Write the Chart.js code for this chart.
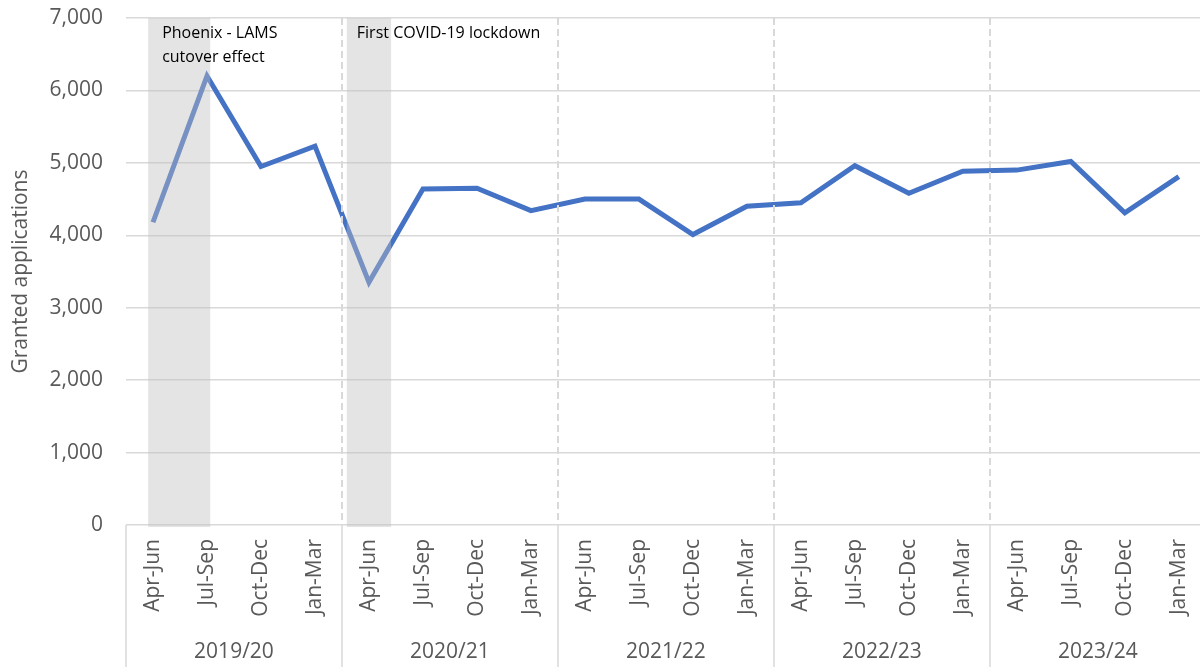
<!DOCTYPE html>
<html>
<head>
<meta charset="utf-8">
<script src="https://cdn.jsdelivr.net/npm/chart.js@4.4.1/dist/chart.umd.min.js"></script>
<style>
  html, body { margin: 0; padding: 0; background: #fff; overflow: hidden; }
  #wrap { width: 1218px; height: 667px; }
</style>
</head>
<body>
<div id="wrap"><canvas id="grantedChart" width="1218" height="667"></canvas></div>
<script>
/* ----------------------------------------------------------
   Data
   ---------------------------------------------------------- */
var years = ['2019/20', '2020/21', '2021/22', '2022/23', '2023/24'];
var quarters = [
  'Apr-Jun', 'Jul-Sep', 'Oct-Dec', 'Jan-Mar',
  'Apr-Jun', 'Jul-Sep', 'Oct-Dec', 'Jan-Mar',
  'Apr-Jun', 'Jul-Sep', 'Oct-Dec', 'Jan-Mar',
  'Apr-Jun', 'Jul-Sep', 'Oct-Dec', 'Jan-Mar',
  'Apr-Jun', 'Jul-Sep', 'Oct-Dec', 'Jan-Mar'
];
var granted = [
  4180, 6200, 4950, 5230,
  3350, 4640, 4650, 4340,
  4500, 4500, 4010, 4400,
  4450, 4960, 4580, 4885,
  4900, 5020, 4310, 4810
];
var yTicks = [0, 1000, 2000, 3000, 4000, 5000, 6000, 7000];

// shaded periods, in category index units
var shaded = [
  { from: -0.09, to: 1.06, text: ['Phoenix - LAMS', 'cutover effect'] },
  { from: 3.59, to: 4.41, text: ['First COVID-19 lockdown'] }
];

var GRID = '#D9D9D9';
var TEXT = '#595959';

/* ----------------------------------------------------------
   Overlay: shading, dashed year lines, year labels
   ---------------------------------------------------------- */
var overlayPlugin = {
  id: 'overlay',
  afterDatasetsDraw: function(chart) {
    var ctx = chart.ctx, a = chart.chartArea;
    var x = chart.scales.x, y = chart.scales.y;
    var perYear = quarters.length / years.length;
    ctx.save();

    // dashed lines at year boundaries
    ctx.strokeStyle = GRID;
    ctx.lineWidth = 2;
    ctx.setLineDash([7, 4]);
    for (var g = 1; g < years.length; g++) {
      var px = Math.round(x.getPixelForValue(g * perYear - 0.5));
      ctx.beginPath();
      ctx.moveTo(px, a.top);
      ctx.lineTo(px, a.bottom);
      ctx.stroke();
    }
    ctx.setLineDash([]);

    // grey boxes drawn over the line
    ctx.fillStyle = 'rgba(191,191,191,0.42)';
    var top = y.getPixelForValue(yTicks[yTicks.length - 1]);
    var bottom = y.getPixelForValue(0) + 2;
    shaded.forEach(function(s) {
      var x0 = x.getPixelForValue(s.from);
      var x1 = x.getPixelForValue(s.to);
      ctx.fillRect(x0, top, x1 - x0, bottom - top);
    });

    // annotation text
    ctx.fillStyle = '#000';
    ctx.font = "16px 'Open Sans', sans-serif";
    ctx.textBaseline = 'middle';
    ctx.textAlign = 'left';
    shaded.forEach(function(s, i) {
      var tx = x.getPixelForValue(s.from) + (i === 0 ? 14 : 10);
      s.text.forEach(function(line, j) {
        ctx.fillText(line, tx, top + 15 + j * 24);
      });
    });
    ctx.restore();
  },
  afterDraw: function(chart) {
    var ctx = chart.ctx, a = chart.chartArea;
    var x = chart.scales.x;
    var perYear = quarters.length / years.length;
    ctx.save();
    ctx.strokeStyle = GRID;
    ctx.lineWidth = 1.5;
    for (var g = 0; g <= years.length; g++) {
      var px = Math.round(x.getPixelForValue(g * perYear - 0.5));
      ctx.beginPath();
      ctx.moveTo(px, a.bottom);
      ctx.lineTo(px, chart.height);
      ctx.stroke();
    }
    ctx.fillStyle = TEXT;
    ctx.font = "21px 'Open Sans', sans-serif";
    ctx.textAlign = 'center';
    ctx.textBaseline = 'middle';
    years.forEach(function(yr, g) {
      ctx.fillText(yr, x.getPixelForValue(g * perYear + (perYear - 1) / 2), 652);
    });
    ctx.restore();
  }
};

/* ----------------------------------------------------------
   Chart
   ---------------------------------------------------------- */
Chart.defaults.font.family = "'Open Sans', sans-serif";
Chart.defaults.color = TEXT;

new Chart(document.getElementById('grantedChart'), {
  type: 'line',
  data: {
    labels: quarters,
    datasets: [{
      label: 'Granted applications',
      data: granted,
      borderColor: '#4472C4',
      borderWidth: 5,
      pointRadius: 0,
      tension: 0,
      fill: false
    }]
  },
  options: {
    responsive: false,
    animation: false,
    devicePixelRatio: 1,
    layout: { padding: { top: 18, right: 0, left: 0, bottom: 0 } },
    plugins: { legend: { display: false }, tooltip: { enabled: false } },
    scales: {
      x: {
        offset: true,
        grid: { display: false, drawTicks: false },
        border: { display: false },
        ticks: {
          autoSkip: false,
          maxRotation: 90,
          minRotation: 90,
          padding: 14,
          color: TEXT,
          font: { size: 21 }
        },
        afterFit: function(scale) { scale.height = 142; }
      },
      y: {
        min: 0,
        max: 7000,
        afterBuildTicks: function(scale) {
          scale.ticks = yTicks.map(function(v) { return { value: v }; });
        },
        grid: { color: GRID, lineWidth: 1.5, drawTicks: false },
        border: { display: false },
        ticks: {
          padding: 23,
          color: TEXT,
          font: { size: 21 },
          callback: function(v) { return v.toLocaleString('en-US'); }
        },
        title: {
          display: true,
          text: 'Granted applications',
          color: TEXT,
          font: { size: 21 },
          padding: { top: 8, bottom: 0 }
        },
        afterFit: function(scale) {
          scale.width = 126;
          scale.paddingTop = 0;
          scale.paddingBottom = 0;
        }
      }
    }
  },
  plugins: [overlayPlugin]
});
</script>
</body>
</html>
